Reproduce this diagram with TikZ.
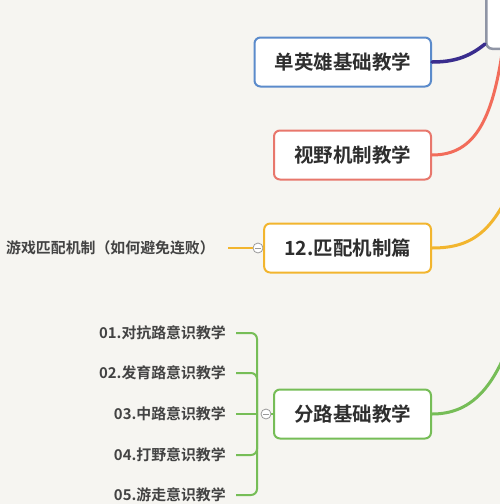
\documentclass[tikz,border=0pt]{standalone}
\usepackage{fontspec}
\newfontfamily\cjk{Noto Sans CJK SC}
\newfontfamily\cjkb{Noto Sans CJK SC Bold}
\usetikzlibrary{calc}
\definecolor{bgc}{HTML}{F6F5F1}
\definecolor{cblue}{HTML}{5B8BCB}
\definecolor{cred}{HTML}{E8776C}
\definecolor{credl}{HTML}{F26C5A}
\definecolor{cyel}{HTML}{F2B52E}
\definecolor{cgrn}{HTML}{76BD57}
\definecolor{cpur}{HTML}{3A2D8E}
\definecolor{cgray}{HTML}{8F95A5}
\definecolor{ctext}{HTML}{2E2E2E}
\definecolor{ccirc}{HTML}{9A9A9A}
\tikzset{
  topic/.style={draw=#1, line width=2pt, fill=white, rounded corners=6pt,
    anchor=east, minimum height=49pt, inner xsep=20pt,
    font=\cjkb\fontsize{19.5}{20}\selectfont, text=ctext},
  sub/.style={anchor=east, inner sep=0pt, font=\cjkb\fontsize{14.9}{15}\selectfont, text=ctext!90},
  conn/.style={line width=3pt, line cap=round},
  leaf/.style={line width=2pt, draw=#1},
  fold/.style={circle, draw=ccirc, line width=0.8pt, fill=white, minimum size=10pt, inner sep=0pt,
    path picture={\draw[ccirc, line width=0.8pt] ([xshift=-3pt]path picture bounding box.center) -- ([xshift=3pt]path picture bounding box.center);}},
}
\begin{document}
\begin{tikzpicture}[x=1pt,y=-1pt]
\useasboundingbox (0,0) rectangle (500,504);
\fill[bgc] (0,0) rectangle (500,504);
\clip (0,0) rectangle (500,504);

% named anchors for free connector ends
\coordinate (r0) at (505,30);
\coordinate (y0) at (525,150);
\coordinate (g0) at (525,282);

% topic nodes
\node[topic=cblue] (n1) at (432,62) {单英雄基础教学};
\node[topic=cred] (n2) at (432,155) {视野机制教学};
\node[topic=cyel] (n3) at (432,248) {12.匹配机制篇};
\node[topic=cgrn] (n4) at (432,414) {分路基础教学};

% connectors behind central node
\draw[conn, credl] (r0) .. controls (495,120) and (475,155) .. (n2.east);
\draw[conn, cyel] (y0) .. controls (500,230) and (475,248) .. (n3.east);
\draw[conn, cgrn] (g0) .. controls (505,390) and (470,414) .. (n4.east);

% central node (partly visible)
\node[draw=cgray, line width=2.5pt, fill=white, rounded corners=6pt,
      minimum width=110pt, minimum height=110pt, anchor=south west] (ctr) at (485,50) {};
\draw[conn, cpur, line width=3.5pt] ([yshift=6pt]ctr.south west) .. controls (468,58) and (452,62) .. (n1.east);

% yellow branch child
\node[fold] (f3) at (258,248) {};
\node[sub] (s31) at (215,248) {游戏匹配机制（如何避免连败）};
\draw[leaf=cyel] ([xshift=13pt]s31.east) -- (f3.west);
\draw[leaf=cyel] (f3.east) -- (n3.west);

% green branch children
\node[sub] (c1) at (226,333) {01.对抗路意识教学};
\node[sub] (c2) at (226,373) {02.发育路意识教学};
\node[sub] (c3) at (226,414) {03.中路意识教学};
\node[sub] (c4) at (226,455) {04.打野意识教学};
\node[sub] (c5) at (226,495) {05.游走意识教学};
\coordinate (bus) at (257,414);
\foreach \c in {c1,c2,c4,c5}{
  \draw[leaf=cgrn, rounded corners=6pt] ([xshift=10pt]\c.east) -| (bus);
}
\draw[leaf=cgrn] ([xshift=10pt]c3.east) -- (bus);
\node[fold] (f4) at (266,414) {};
\draw[leaf=cgrn] (f4.east) -- (n4.west);
\end{tikzpicture}
\end{document}
